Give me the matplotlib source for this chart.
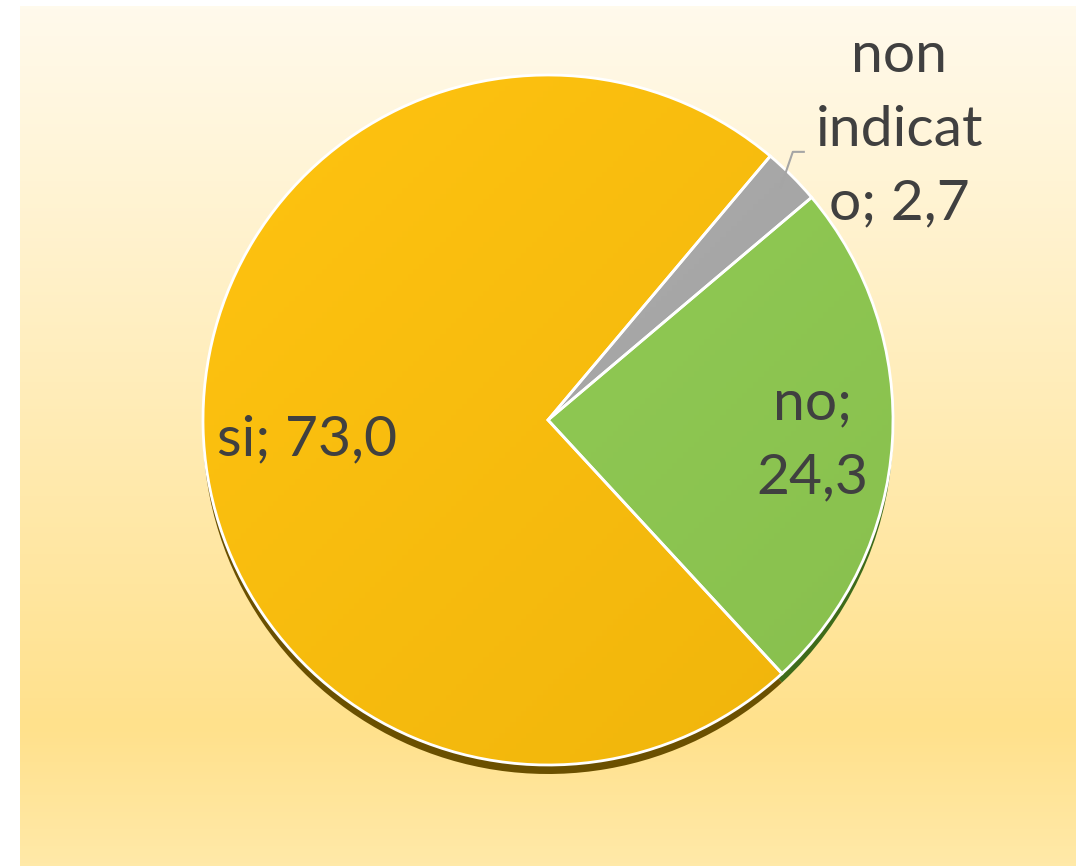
import numpy as np
import matplotlib
matplotlib.use("Agg")
import matplotlib.pyplot as plt

# ---- data ----
categories = ["no", "non indicato", "si"]
values = [24.3, 2.7, 73.0]
label_texts = ["no;\n24,3", "non\nindicat\no; 2,7", "si; 73,0"]
colors = ["#8CC550", "#A5A5A5", "#F7BA0C"]
shadow_colors = ["#3E6B1A", "#555555", "#6B5000"]

W, H = 1081, 866
fig = plt.figure(figsize=(W / 100, H / 100), dpi=100)
fig.patch.set_facecolor("white")
ax = fig.add_axes([0, 0, 1, 1])
ax.set_xlim(0, W)
ax.set_ylim(0, H)
ax.set_aspect("equal")
ax.axis("off")

# background gradient panel
grad_y = np.linspace(0, 1, 256)
top = np.array([255, 250, 236]) / 255
mid = np.array([255, 225, 140]) / 255
bot = np.array([255, 233, 168]) / 255
cols = []
for t in grad_y:
    if t < 0.84:
        c = top + (mid - top) * (t / 0.84)
    else:
        c = mid + (bot - mid) * ((t - 0.84) / 0.16)
    cols.append(c)
img = np.array(cols)[:, None, :]
ax.imshow(img, extent=[20, 1076, 0, H - 6], origin="upper", aspect="auto", zorder=0)

cx, cy, R = 548, H - 420, 345
startangle = -47.3

# shadow
ax.pie(values, colors=shadow_colors, startangle=startangle, counterclock=True,
       center=(cx, cy - 9), radius=R, frame=True,
       wedgeprops=dict(edgecolor="none", linewidth=0, zorder=1))
wedges, _ = ax.pie(values, colors=colors, startangle=startangle, counterclock=True,
                   center=(cx, cy), radius=R, frame=True,
                   wedgeprops=dict(edgecolor="white", linewidth=2, zorder=2))
ax.set_xlim(0, W)
ax.set_ylim(0, H)
ax.axis("off")

# subtle gradients on wedges (lighter top-left, darker bottom-right)
for w, c in zip(wedges, colors):
    rgb = np.array(matplotlib.colors.to_rgb(c))
    g = np.linspace(0, 1, 128)
    X, Y = np.meshgrid(g, g)
    t = (X + Y) / 2
    lighter = np.clip(rgb * 1.03 + 0.015, 0, 1)
    darker = rgb * 0.97
    im = lighter[None, None, :] * (1 - t[..., None]) + darker[None, None, :] * t[..., None]
    imobj = ax.imshow(im, extent=[cx - R, cx + R, cy - R, cy + R], origin="upper",
                      aspect="auto", zorder=2.5)
    imobj.set_clip_path(w)
for w in wedges:
    w.set_facecolor("none")
    w.set_zorder(3)

font = dict(family=["Lato", "DejaVu Sans"], color="#404040", fontsize=41)
# (distance factor, angle offset in degrees from wedge middle)
placements = [(0.77, -1.0), (1.32, -5.5), (0.70, 3.5)]
for w, txt, (d, off) in zip(wedges, label_texts, placements):
    ang = np.deg2rad((w.theta1 + w.theta2) / 2 + off)
    x = cx + d * R * np.cos(ang)
    y = cy + d * R * np.sin(ang)
    ax.text(x, y, txt, ha="center", va="center", linespacing=1.55, zorder=5, **font)

# leader line for the small slice
wg = wedges[1]
a = np.deg2rad((wg.theta1 + wg.theta2) / 2)
p0 = (cx + 0.955 * R * np.cos(a), cy + 0.955 * R * np.sin(a))
ax.plot([p0[0], p0[0] + 12, p0[0] + 23], [p0[1], p0[1] + 35, p0[1] + 35],
        color="#A5A5A5", lw=1.5, zorder=4)

fig.savefig("out.png", dpi=100)
